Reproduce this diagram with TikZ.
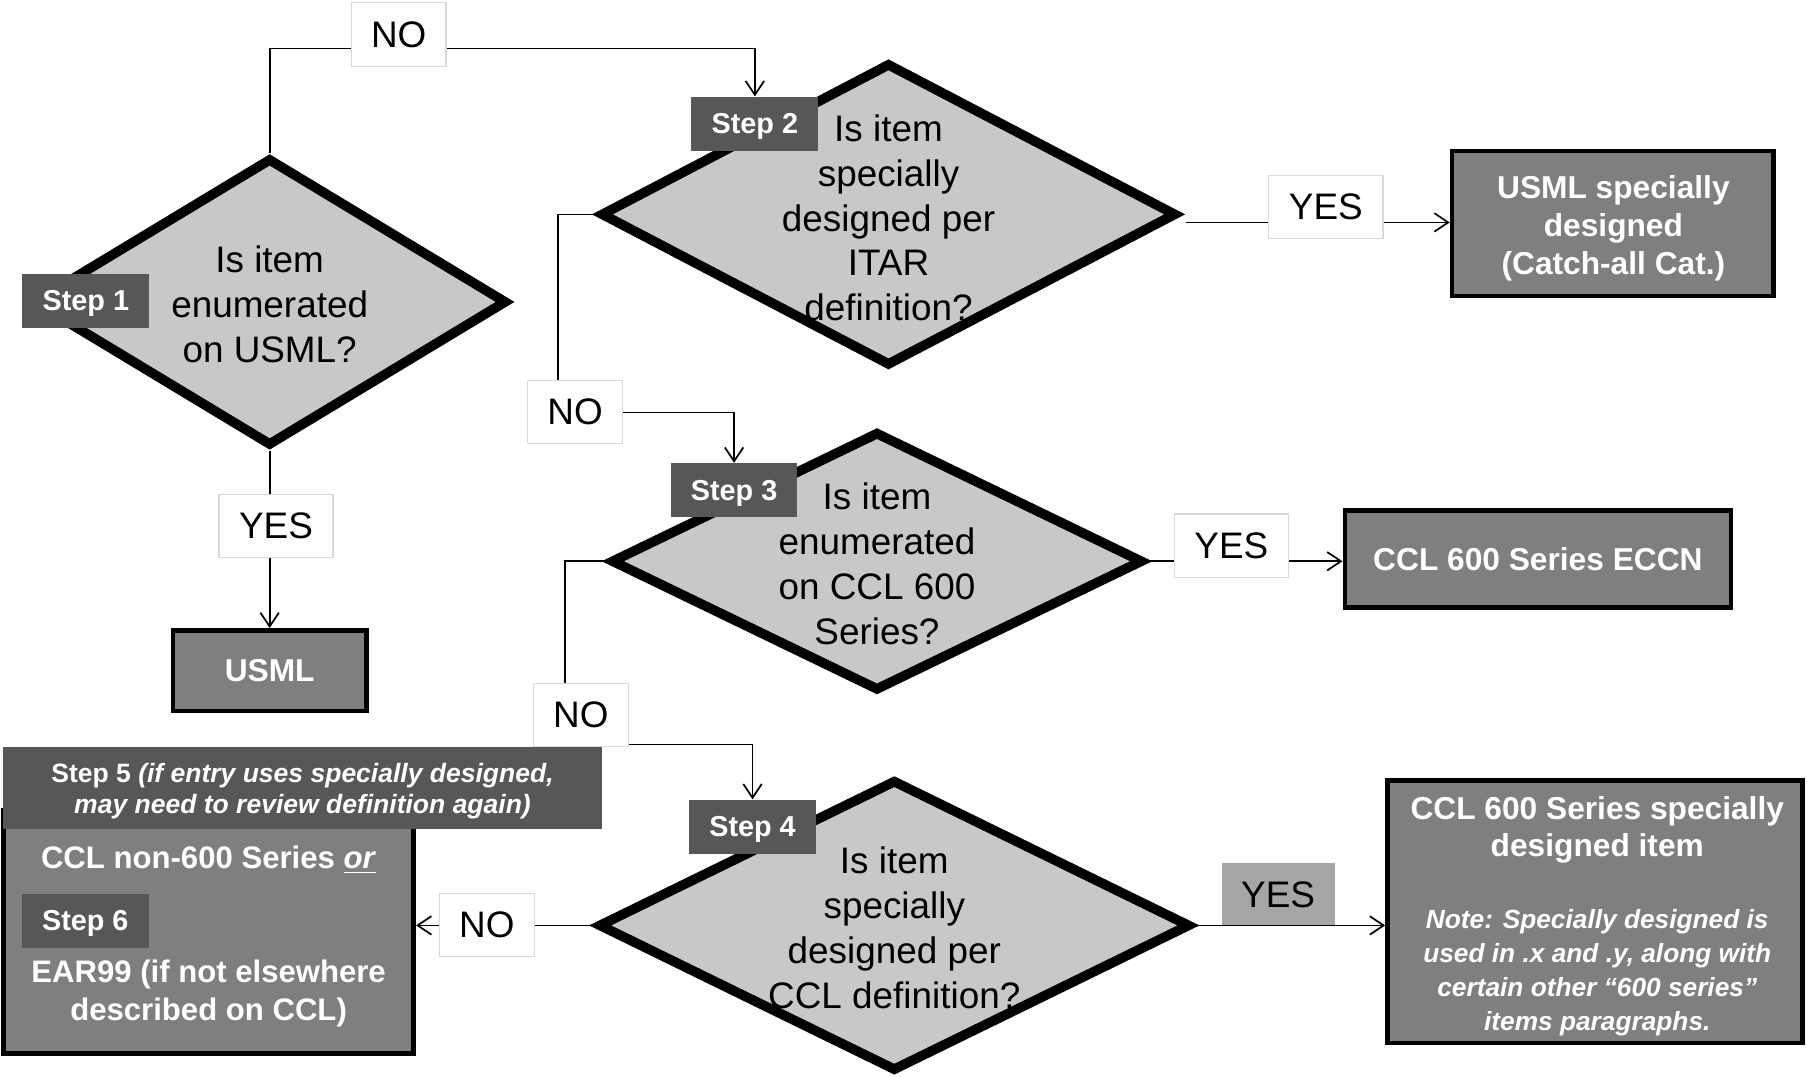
\documentclass[tikz,border=0pt]{standalone}
\usepackage{fontspec}
\setmainfont{Liberation Sans}
\usetikzlibrary{shapes.geometric,arrows.meta,calc}
\definecolor{dfill}{HTML}{C8C8C8}
\definecolor{sfill}{HTML}{575757}
\definecolor{rfill}{HTML}{7F7F7F}
\definecolor{ygray}{HTML}{A6A6A6}
\definecolor{lgray}{HTML}{D9D9D9}
\begin{document}
\begin{tikzpicture}[x=0.5pt,y=-0.5pt,
  dia/.style={diamond,draw=black,fill=dfill,line width=4.2pt,inner sep=0pt},
  qtext/.style={font=\fontsize{16}{19.5}\selectfont,align=center,text=black,inner sep=0pt},
  steplbl/.style={fill=sfill,text=white,font=\bfseries\fontsize{12.5}{15}\selectfont,minimum width=55pt,minimum height=23.5pt,inner sep=0pt,text depth=0pt},
  result/.style={draw=black,line width=2pt,fill=rfill,text=white,font=\bfseries\fontsize{13.75}{16.5}\selectfont,align=center,inner sep=0pt},
  wtext/.style={text=white,align=center,inner sep=0pt},
  lbl/.style={draw=lgray,line width=0.5pt,fill=white,font=\fontsize{16}{19}\selectfont,minimum height=27.5pt,inner sep=0pt},
  lblno/.style={lbl,minimum width=41pt},
  lblyes/.style={lbl,minimum width=49.5pt},
  arr/.style={-{Straight Barb[length=6pt,width=8pt]},line width=0.75pt}]
\useasboundingbox (0,0) rectangle (1568,934);

% diamonds
\node[dia,minimum width=206pt,minimum height=125pt] (d1) at (234,262) {};
\node[dia,minimum width=250pt,minimum height=131.5pt] (d2) at (771,186) {};
\node[dia,minimum width=231pt,minimum height=112.5pt] (d3) at (761,487) {};
\node[dia,minimum width=257pt,minimum height=126.5pt] (d4) at (776,803) {};

\node[qtext] (t1) at (234,264) {Is item\\enumerated\\on USML?};
\node[qtext] (t2) at (771,189) {Is item\\specially\\designed per\\ITAR\\definition?};
\node[qtext] (t3) at (761,489) {Is item\\enumerated\\on CCL 600\\Series?};
\node[qtext] (t4) at (776,805) {Is item\\specially\\designed per\\CCL definition?};

% step labels
\node[steplbl] (s1) at (74.5,261) {Step 1};
\node[steplbl] (s2) at (655,107.5) {Step 2};
\node[steplbl] (s3) at (637,425.5) {Step 3};
\node[steplbl] (s4) at (653,717.5) {Step 4};

% result boxes
\node[result,minimum width=84pt,minimum height=35pt,text depth=0pt] (usml) at (234,582) {USML};
\node[result,minimum width=139.5pt,minimum height=63pt] (usd) at (1399.5,194) {};
\node[wtext,font=\bfseries\fontsize{13.75}{16.5}\selectfont] (usdt) at (1400,198) {USML specially\\designed\\(Catch-all Cat.)};
\node[result,minimum width=167.5pt,minimum height=42pt] (ccl) at (1334.5,485) {CCL 600 Series ECCN};
\node[result,minimum width=180pt,minimum height=114pt] (csd) at (1384,791) {};
\node[wtext,font=\bfseries\fontsize{13.75}{16}\selectfont] (csdt) at (1386,720) {CCL 600 Series specially\\designed item};
\node[wtext,font=\bfseries\itshape\fontsize{11.4}{14.7}\selectfont] (csdn) at (1386,844) {Note: Specially designed is\\used in .x and .y, along with\\certain other “600 series”\\items paragraphs.};

\node[result,minimum width=178pt,minimum height=105.5pt] (non) at (181,808.5) {};
\node[wtext,font=\bfseries\fontsize{13.5}{16.5}\selectfont] (n1) at (181,746) {CCL non-600 Series \underline{\textit{or}}};
\node[steplbl] (s6) at (74,799) {Step 6};
\node[wtext,font=\bfseries\fontsize{13.5}{16.5}\selectfont] (n2) at (181,862) {EAR99 (if not elsewhere\\described on CCL)};
\node[fill=sfill,minimum width=259.5pt,minimum height=35.5pt,inner sep=0pt] (s5) at (262.5,683.5) {};
\node[wtext,font=\bfseries\fontsize{11.5}{13.5}\selectfont] (s5t) at (262.5,686.5) {Step 5 \textit{(if entry uses specially designed,}\\\textit{may need to review definition again)}};

% bend points
\coordinate (k1) at (234,42);
\coordinate (k2) at (484,358);
\coordinate (k3) at (490,646);
\coordinate (y2) at ($(d2.east)+(4,7)$);

% connectors
\draw[arr] (d1.north) -- (d1.north |- k1) -| (s2.north);
\draw[arr] (d1.south) -- (usml.north);
\draw[arr] (d2.west) -| (k2) -| (s3.north);
\draw[arr] (y2) -- (y2 -| usd.west);
\draw[arr] (d3.west) -| (k3) -| (s4.north);
\draw[arr] (d3.east) -- (d3.east -| ccl.west);
\draw[arr] (d4.west) -- (d4.west -| non.east);

\node[fill=ygray,minimum width=49pt,minimum height=27pt,inner sep=0pt,font=\fontsize{16}{19}\selectfont] (yes4) at (1109,776) {YES};
\draw[arr] (d4.east) -- (d4.east -| csd.west);

% labels
\node[lblno] (no1) at (346,30) {NO};
\node[lblyes] (yes1) at (239.5,456.5) {YES};
\node[lblno] (no2) at (499,357.5) {NO};
\node[lblyes] (yes2) at (1150.5,179.5) {YES};
\node[lblyes] (yes3) at (1068.5,473.5) {YES};
\node[lblno] (no3) at (504,620.5) {NO};
\node[lblno] (no4) at (422.5,802.5) {NO};
\end{tikzpicture}
\end{document}
